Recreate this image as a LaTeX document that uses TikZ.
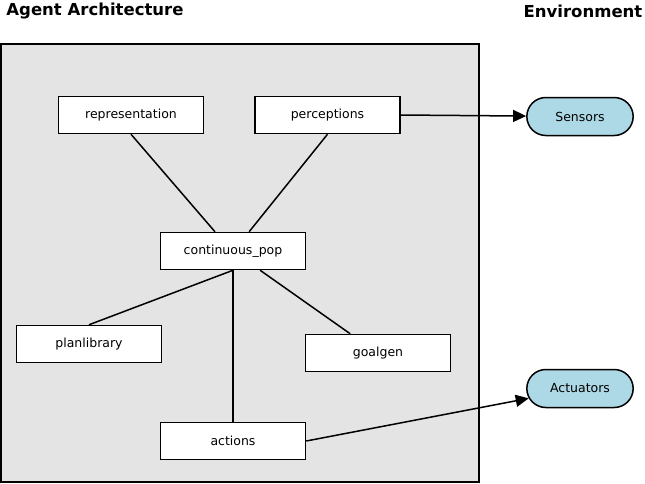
\documentclass[tikz,border=0pt]{standalone}
\usepackage{fontspec}
\setmainfont{DejaVu Sans}
\usepackage{tikz}
\usetikzlibrary{shapes.misc, arrows.meta, calc}
\definecolor{panelgray}{HTML}{E4E4E4}
\definecolor{envblue}{HTML}{ADD8E6}
\tikzstyle{block} = [rectangle, minimum width=145pt, minimum height=37pt, text centered, draw=black, fill=white, line width=1.5pt, font=\fontsize{12.5}{15}\selectfont]
\tikzstyle{envnode} = [rounded rectangle, minimum width=113pt, minimum height=38pt, text centered, draw=black, fill=envblue, line width=1.5pt, font=\fontsize{12.5}{15}\selectfont]
\tikzstyle{title} = [font=\fontsize{16.5}{19}\selectfont\bfseries]
\tikzstyle{arrow} = [-{Triangle[length=13pt, width=12pt]}, line width=1.5pt]
\tikzstyle{line} = [-, line width=1.5pt]

\begin{document}
\begin{tikzpicture}[x=1pt, y=-1pt]

    \useasboundingbox (0, 0) rectangle (645, 483);

    \node (agenttitle) [title] at (95, 11) {Agent Architecture};
    \node (envtitle) [title] at (583, 11) {Environment};

    \node (agentbox) [rectangle, draw=black, fill=panelgray, line width=2pt, minimum width=478pt, minimum height=438pt] at (240, 263) {};

    \node (repr) [block] at (131, 115) {representation};
    \node (perc) [block] at (327.5, 115) {perceptions};
    \node (cpop) [block] at (233, 251) {continuous\_pop};
    \node (plib) [block] at (89, 344) {planlibrary};
    \node (goal) [block] at (378, 353) {goalgen};
    \node (acts) [block] at (233, 441) {actions};

    \node (sens) [envnode] at (580, 116.5) {Sensors};
    \node (actu) [envnode] at (580, 388.5) {Actuators};

    \draw [line] (repr.south) -- ($(cpop.north west)!0.377!(cpop.north east)$);
    \draw [line] (perc.south) -- ($(cpop.north west)!0.61!(cpop.north east)$);
    \draw [line] (cpop.south) -- (plib.north);
    \draw [line] ($(cpop.south west)!0.685!(cpop.south east)$) -- ($(goal.north west)!0.31!(goal.north east)$);
    \draw [line] (cpop.south) -- (acts.north);

    \draw [arrow] (perc.east) -- (sens);
    \draw [arrow] (acts.east) -- (actu);

\end{tikzpicture}
\end{document}
